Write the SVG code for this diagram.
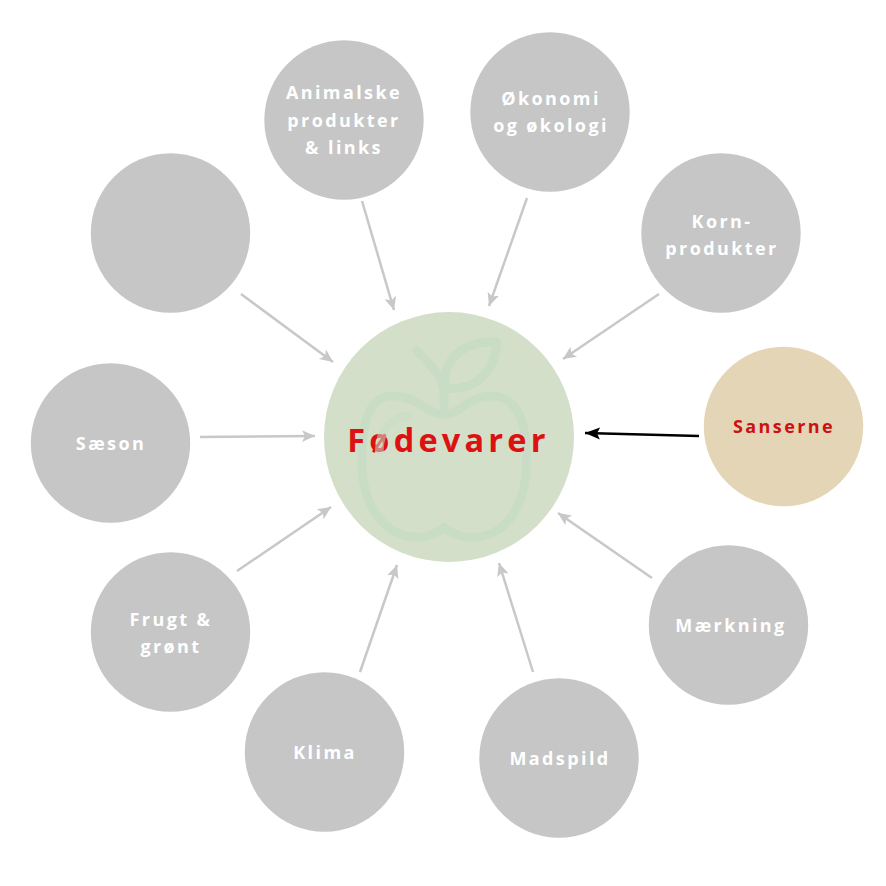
<svg xmlns="http://www.w3.org/2000/svg" width="886" height="886" viewBox="0 0 886 886">
<style>
.n{fill:#c6c6c6}
text{font-family:"Open Sans","Noto Sans","Liberation Sans",sans-serif;font-weight:700;text-anchor:middle}
.l{fill:#fff;font-size:18px;letter-spacing:2.4px}
.c line{stroke:#c8c8c8;stroke-width:2.500;marker-end:url(#g)}
.a{fill:none;stroke:#c8dcc6;stroke-width:26;stroke-linecap:round;stroke-linejoin:round}
</style>
<defs>
<marker id="g" markerUnits="userSpaceOnUse" markerWidth="14" markerHeight="14" refX="13" refY="7" orient="auto"><path d="M0 1L13 7L0 13L3 7Z" fill="#c8c8c8"/></marker>
<marker id="b" markerUnits="userSpaceOnUse" markerWidth="16" markerHeight="14" refX="15" refY="7" orient="auto"><path d="M0 1L15 7L0 13L3 7Z" fill="#000"/></marker>
</defs>
<rect width="886" height="886" fill="#fff"/>
<g id="center">
<circle cx="449" cy="437" r="125" fill="#d3dfc9"/>
<g transform="translate(320 310) scale(.3333)">
<path class="a" d="M372 312C330 320 300 258 215 258C150 258 125 330 125 450C125 590 195 682 295 682C330 682 352 668 372 652C392 668 420 682 455 682C555 682 620 590 620 450C620 330 590 258 515 258C440 258 414 320 372 312Z"/>
<path class="a" d="M290 122C330 165 372 200 372 250V305"/>
<path class="a" d="M375 235C365 150 430 90 530 97C525 190 460 245 375 235Z"/>
</g>
<text x="448.500" y="452" font-size="32.500" letter-spacing="4.200" fill="#dd1111">Fødevarer</text>
<path transform="translate(320 310) scale(.3333)" class="a" opacity=".55" d="M268 318C215 318 180 360 178 420"/>
</g>
<g id="connectors" class="c">
<line x1="362" y1="201" x2="394" y2="310"/>
<line x1="527" y1="198" x2="489" y2="306"/>
<line x1="659" y1="294" x2="563" y2="359"/>
<line x1="652" y1="578" x2="558" y2="513"/>
<line x1="533" y1="672" x2="499" y2="563"/>
<line x1="360" y1="672" x2="397" y2="565"/>
<line x1="237" y1="571" x2="331" y2="507"/>
<line x1="200" y1="437" x2="315" y2="436"/>
<line x1="241" y1="294" x2="333" y2="362"/>
<line x1="699" y1="436" x2="585" y2="433" style="stroke:#000;marker-end:url(#b)"/>
</g>
<g id="animalske"><circle class="n" cx="344" cy="120" r="79.700"/><text class="l" x="344" y="99">Animalske</text><text class="l" x="344" y="127">produkter</text><text class="l" x="344" y="154">&amp; links</text></g>
<g id="okonomi"><circle class="n" cx="550" cy="112" r="79.700"/><text class="l" x="551" y="105">Økonomi</text><text class="l" x="551" y="132">og økologi</text></g>
<g id="korn"><circle class="n" cx="721" cy="233" r="79.700"/><text class="l" x="722" y="228">Korn-</text><text class="l" x="722" y="255">produkter</text></g>
<g id="sanserne"><circle cx="783.500" cy="426.500" r="79.700" fill="#e4d5b7"/><text x="784" y="433" font-size="18" letter-spacing="2.400" fill="#cc1111">Sanserne</text></g>
<g id="maerkning"><circle class="n" cx="728.500" cy="625" r="79.700"/><text class="l" x="731" y="632">Mærkning</text></g>
<g id="madspild"><circle class="n" cx="559" cy="758" r="79.700"/><text class="l" x="560" y="765">Madspild</text></g>
<g id="klima"><circle class="n" cx="324.500" cy="752" r="79.700"/><text class="l" x="325" y="759">Klima</text></g>
<g id="frugt"><circle class="n" cx="170.500" cy="632" r="79.700"/><text class="l" x="171" y="626">Frugt &amp;</text><text class="l" x="171" y="653">grønt</text></g>
<g id="saeson"><circle class="n" cx="110.500" cy="443" r="79.700"/><text class="l" x="111" y="450">Sæson</text></g>
<g id="blank"><circle class="n" cx="170.500" cy="233" r="79.700"/></g>
</svg>
